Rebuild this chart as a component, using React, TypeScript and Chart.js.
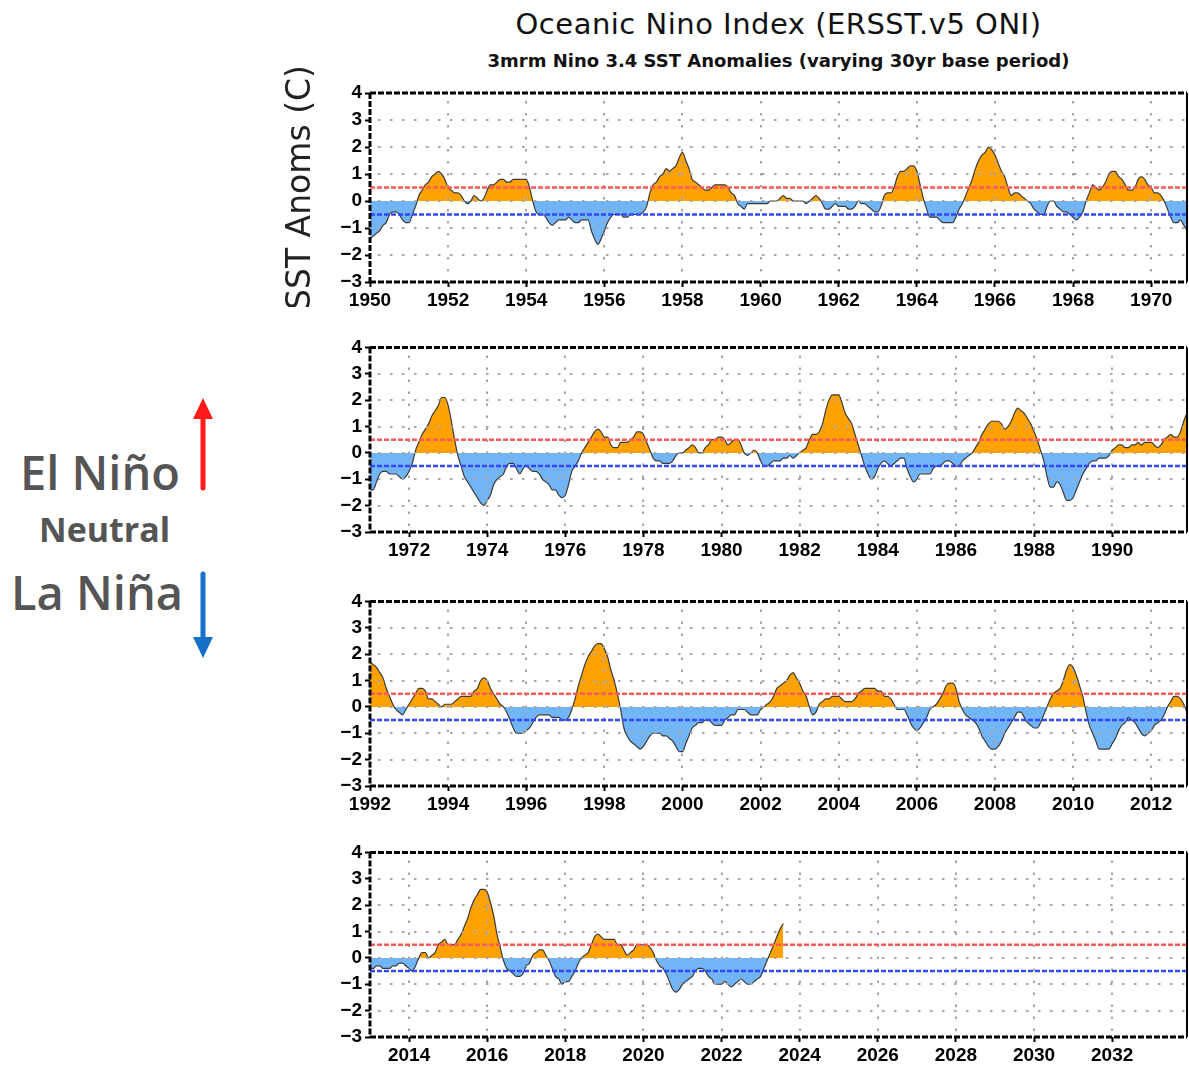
import React, { useEffect, useRef } from "react";
import { Chart, registerables } from "chart.js";
Chart.register(...registerables);

// Monthly 3-month running mean Nino 3.4 anomalies (value at centre month)
const oni1950s = [
  -1.4, -1.3, -1.2, -1.1, -0.9, -0.8, -0.5, -0.4, -0.4, -0.5, -0.7, -0.8,
  -0.8, -0.5, -0.2, 0.2, 0.4, 0.6, 0.7, 0.9, 1.0, 1.1, 1.0, 0.8,
  0.5, 0.4, 0.3, 0.3, 0.2, 0.0, -0.1, 0.0, 0.2, 0.1, 0.0, 0.1,
  0.4, 0.6, 0.6, 0.7, 0.8, 0.8, 0.7, 0.7, 0.8, 0.8, 0.8, 0.8,
  0.8, 0.5, 0.0, -0.4, -0.5, -0.5, -0.6, -0.8, -0.9, -0.8, -0.7, -0.7,
  -0.7, -0.6, -0.7, -0.8, -0.8, -0.7, -0.7, -0.7, -1.1, -1.4, -1.6, -1.4,
  -1.1, -0.8, -0.6, -0.5, -0.5, -0.5, -0.6, -0.6, -0.5, -0.5, -0.5, -0.5,
  -0.4, -0.2, 0.3, 0.6, 0.7, 0.9, 1.0, 1.2, 1.1, 1.2, 1.3, 1.6,
  1.8, 1.5, 1.2, 0.8, 0.7, 0.6, 0.5, 0.4, 0.4, 0.5, 0.6, 0.6,
  0.6, 0.6, 0.5, 0.3, 0.2, -0.1, -0.2, -0.3, -0.1, -0.1, -0.1, -0.1,
];
const oni1960s = [
  -0.1, -0.1, -0.1, 0.0, 0.0, 0.0, 0.1, 0.2, 0.1, 0.1, 0.0, 0.0,
  0.0, 0.0, -0.1, 0.0, 0.1, 0.2, 0.1, -0.1, -0.3, -0.3, -0.2, -0.1,
  -0.2, -0.2, -0.2, -0.3, -0.3, -0.2, 0.0, -0.1, -0.1, -0.2, -0.3, -0.4,
  -0.4, -0.2, 0.2, 0.3, 0.3, 0.5, 0.9, 1.1, 1.1, 1.2, 1.3, 1.3,
  1.1, 0.6, 0.1, -0.3, -0.6, -0.6, -0.6, -0.7, -0.8, -0.8, -0.8, -0.8,
  -0.6, -0.3, -0.1, 0.2, 0.5, 0.8, 1.2, 1.5, 1.7, 1.8, 2.0, 1.9,
  1.7, 1.4, 1.1, 0.9, 0.5, 0.2, 0.3, 0.3, 0.2, 0.1, 0.0, -0.1,
  -0.3, -0.4, -0.5, -0.5, -0.2, 0.0, 0.0, -0.2, -0.3, -0.4, -0.4, -0.5,
  -0.6, -0.7, -0.6, -0.4, 0.0, 0.3, 0.6, 0.5, 0.4, 0.5, 0.7, 1.0,
  1.1, 1.1, 0.9, 0.8, 0.6, 0.4, 0.4, 0.5, 0.8, 0.9, 0.8, 0.6,
];
const oni1970s = [
  0.5, 0.3, 0.3, 0.2, 0.0, -0.3, -0.6, -0.8, -0.8, -0.7, -0.9, -1.1,
  -1.4, -1.4, -1.1, -0.8, -0.7, -0.7, -0.8, -0.8, -0.8, -0.9, -1.0, -0.9,
  -0.7, -0.4, 0.1, 0.4, 0.7, 0.9, 1.1, 1.4, 1.6, 1.8, 2.1, 2.1,
  1.8, 1.2, 0.5, -0.1, -0.5, -0.9, -1.1, -1.3, -1.5, -1.7, -1.9, -2.0,
  -1.8, -1.6, -1.2, -1.0, -0.9, -0.8, -0.5, -0.4, -0.4, -0.6, -0.8, -0.6,
  -0.5, -0.6, -0.7, -0.7, -0.8, -1.0, -1.1, -1.2, -1.4, -1.4, -1.6, -1.7,
  -1.6, -1.2, -0.7, -0.5, -0.3, 0.0, 0.2, 0.4, 0.6, 0.8, 0.9, 0.8,
  0.6, 0.6, 0.3, 0.2, 0.2, 0.4, 0.4, 0.4, 0.5, 0.6, 0.8, 0.8,
  0.7, 0.4, 0.1, -0.2, -0.3, -0.3, -0.4, -0.4, -0.4, -0.3, -0.1, 0.0,
  0.0, 0.1, 0.2, 0.3, 0.2, 0.0, 0.0, 0.2, 0.3, 0.5, 0.5, 0.6,
];
const oni1980s = [
  0.6, 0.5, 0.3, 0.4, 0.5, 0.5, 0.3, 0.0, -0.1, 0.0, 0.1, 0.0,
  -0.3, -0.5, -0.5, -0.4, -0.3, -0.3, -0.3, -0.2, -0.2, -0.1, -0.2, -0.1,
  0.0, 0.1, 0.2, 0.5, 0.7, 0.7, 0.8, 1.1, 1.6, 2.0, 2.2, 2.2,
  2.2, 1.9, 1.5, 1.3, 1.1, 0.7, 0.3, -0.1, -0.5, -0.8, -1.0, -0.9,
  -0.6, -0.4, -0.3, -0.4, -0.5, -0.4, -0.3, -0.2, -0.2, -0.6, -0.9, -1.1,
  -1.0, -0.8, -0.8, -0.8, -0.8, -0.6, -0.5, -0.5, -0.4, -0.3, -0.3, -0.4,
  -0.5, -0.5, -0.3, -0.2, -0.1, 0.0, 0.2, 0.4, 0.7, 0.9, 1.1, 1.2,
  1.2, 1.2, 1.1, 0.9, 1.0, 1.2, 1.5, 1.7, 1.6, 1.5, 1.3, 1.1,
  0.8, 0.5, 0.1, -0.3, -0.9, -1.3, -1.3, -1.1, -1.2, -1.5, -1.8, -1.8,
  -1.7, -1.4, -1.1, -0.8, -0.6, -0.4, -0.3, -0.3, -0.2, -0.2, -0.2, -0.1,
];
const oni1990s = [
  0.1, 0.2, 0.3, 0.3, 0.2, 0.2, 0.3, 0.3, 0.4, 0.3, 0.4, 0.4,
  0.4, 0.3, 0.2, 0.3, 0.5, 0.6, 0.7, 0.6, 0.6, 0.8, 1.2, 1.5,
  1.7, 1.6, 1.5, 1.3, 1.1, 0.7, 0.4, 0.1, -0.1, -0.2, -0.3, -0.1,
  0.1, 0.3, 0.5, 0.7, 0.7, 0.6, 0.3, 0.3, 0.2, 0.1, 0.0, 0.1,
  0.1, 0.1, 0.2, 0.3, 0.4, 0.4, 0.4, 0.4, 0.6, 0.7, 1.0, 1.1,
  1.0, 0.7, 0.5, 0.3, 0.1, 0.0, -0.2, -0.5, -0.8, -1.0, -1.0, -1.0,
  -0.9, -0.8, -0.6, -0.4, -0.3, -0.3, -0.3, -0.3, -0.4, -0.4, -0.4, -0.5,
  -0.5, -0.4, -0.1, 0.3, 0.8, 1.2, 1.6, 1.9, 2.1, 2.3, 2.4, 2.4,
  2.2, 1.9, 1.4, 1.0, 0.5, -0.1, -0.8, -1.1, -1.3, -1.4, -1.5, -1.6,
  -1.5, -1.3, -1.1, -1.0, -1.0, -1.0, -1.1, -1.1, -1.2, -1.3, -1.5, -1.7,
];
const oni2000s = [
  -1.7, -1.4, -1.1, -0.8, -0.7, -0.6, -0.6, -0.5, -0.5, -0.6, -0.7, -0.7,
  -0.7, -0.5, -0.4, -0.3, -0.3, -0.1, -0.1, -0.1, -0.2, -0.3, -0.3, -0.3,
  -0.1, 0.0, 0.1, 0.2, 0.4, 0.7, 0.8, 0.9, 1.0, 1.2, 1.3, 1.1,
  0.9, 0.6, 0.4, 0.0, -0.3, -0.2, 0.1, 0.2, 0.3, 0.3, 0.4, 0.4,
  0.4, 0.3, 0.2, 0.2, 0.2, 0.3, 0.5, 0.6, 0.7, 0.7, 0.7, 0.7,
  0.6, 0.6, 0.4, 0.4, 0.3, 0.1, -0.1, -0.1, -0.1, -0.3, -0.6, -0.8,
  -0.9, -0.8, -0.6, -0.4, -0.1, 0.0, 0.1, 0.3, 0.5, 0.8, 0.9, 0.9,
  0.7, 0.2, -0.1, -0.3, -0.4, -0.5, -0.6, -0.8, -1.1, -1.3, -1.5, -1.6,
  -1.6, -1.5, -1.3, -1.0, -0.8, -0.6, -0.4, -0.2, -0.2, -0.4, -0.6, -0.7,
  -0.8, -0.8, -0.6, -0.3, 0.0, 0.3, 0.5, 0.6, 0.7, 1.0, 1.4, 1.6,
];
const oni2010s = [
  1.5, 1.2, 0.8, 0.4, -0.2, -0.7, -1.0, -1.3, -1.6, -1.6, -1.6, -1.6,
  -1.4, -1.2, -0.9, -0.7, -0.6, -0.4, -0.5, -0.6, -0.8, -1.0, -1.1, -1.0,
  -0.9, -0.7, -0.6, -0.5, -0.3, 0.0, 0.2, 0.4, 0.4, 0.3, 0.1, -0.2,
  -0.4, -0.4, -0.3, -0.3, -0.4, -0.4, -0.4, -0.3, -0.3, -0.2, -0.2, -0.3,
  -0.4, -0.5, -0.3, 0.0, 0.2, 0.2, 0.0, 0.1, 0.2, 0.5, 0.6, 0.7,
  0.5, 0.5, 0.5, 0.7, 0.9, 1.2, 1.5, 1.9, 2.2, 2.4, 2.6, 2.6,
  2.5, 2.1, 1.6, 0.9, 0.4, -0.1, -0.4, -0.5, -0.6, -0.7, -0.7, -0.6,
  -0.3, -0.2, 0.1, 0.2, 0.3, 0.3, 0.1, -0.1, -0.4, -0.7, -0.8, -1.0,
  -0.9, -0.9, -0.7, -0.5, -0.2, 0.0, 0.1, 0.2, 0.5, 0.8, 0.9, 0.8,
  0.7, 0.7, 0.7, 0.7, 0.5, 0.5, 0.3, 0.1, 0.2, 0.3, 0.5, 0.5,
];
const oni2020s = [
  0.5, 0.5, 0.4, 0.2, -0.1, -0.3, -0.4, -0.6, -0.9, -1.2, -1.3, -1.2,
  -1.0, -0.9, -0.8, -0.7, -0.5, -0.4, -0.4, -0.5, -0.7, -0.8, -1.0, -1.0,
  -1.0, -0.9, -1.0, -1.1, -1.0, -0.9, -0.8, -0.9, -1.0, -1.0, -0.9, -0.8,
  -0.7, -0.4, -0.1, 0.2, 0.5, 0.8, 1.1, 1.3,
];

const firstYear = 1950;
const panelStartYears = [1950, 1971, 1992, 2013];
const panelSpanYears = 21 - 1 / 12;
const panelYearTicks = [
  [1950, 1952, 1954, 1956, 1958, 1960, 1962, 1964, 1966, 1968, 1970],
  [1972, 1974, 1976, 1978, 1980, 1982, 1984, 1986, 1988, 1990],
  [1992, 1994, 1996, 1998, 2000, 2002, 2004, 2006, 2008, 2010, 2012],
  [2014, 2016, 2018, 2020, 2022, 2024, 2026, 2028, 2030, 2032],
];
const yTickValues = [-3, -2, -1, 0, 1, 2, 3, 4];
const gridYValues = [-2, -1, 0, 1, 2, 3];
const elNinoThreshold = 0.5;
const laNinaThreshold = -0.5;
const yAxisTitle = "SST Anoms (C)";
const chartTitle = "Oceanic Nino Index (ERSST.v5 ONI)";
const chartSubtitle = "3mrm Nino 3.4 SST Anomalies (varying 30yr base period)";

const oniMonthly = [
  ...oni1950s, ...oni1960s, ...oni1970s, ...oni1980s,
  ...oni1990s, ...oni2000s, ...oni2010s, ...oni2020s,
];
const oniPoints = oniMonthly.map((v, i) => ({ x: firstYear + i / 12, y: v }));

const panelTops = [93, 343, 597, 848];
const plotHeight = 189;
const canvasLeft = 280;
const canvasWidth = 909;
const yAxisWidth = 90;
const xAxisHeight = 25;
const tickFont = { family: "'Liberation Sans', Arial, sans-serif", size: 19, weight: "bold" as const };

const overlayPlugin = {
  id: "oniOverlay",
  afterDatasetsDraw(chart: any) {
    const { ctx, chartArea: a } = chart;
    const x = chart.scales.x;
    const y = chart.scales.y;
    ctx.save();
    ctx.beginPath();
    ctx.rect(a.left, a.top, a.right - a.left, a.bottom - a.top);
    ctx.clip();
    ctx.strokeStyle = "#a6a6a6";
    ctx.lineWidth = 2;
    ctx.setLineDash([2.5, 9.5]);
    for (const v of gridYValues) {
      const py = Math.round(y.getPixelForValue(v));
      ctx.beginPath();
      ctx.moveTo(a.left + 8, py);
      ctx.lineTo(a.right, py);
      ctx.stroke();
    }
    for (const t of x.ticks) {
      const px = Math.round(x.getPixelForValue(t.value));
      ctx.beginPath();
      ctx.moveTo(px, a.top + 8);
      ctx.lineTo(px, a.bottom);
      ctx.stroke();
    }
    ctx.lineWidth = 2.5;
    ctx.setLineDash([5, 2]);
    const thr = [
      [elNinoThreshold, "#ff5a5a"],
      [laNinaThreshold, "#3048ff"],
    ] as const;
    for (const [v, c] of thr) {
      const py = y.getPixelForValue(v);
      ctx.strokeStyle = c;
      ctx.beginPath();
      ctx.moveTo(a.left, py);
      ctx.lineTo(a.right, py);
      ctx.stroke();
    }
    ctx.restore();
  },
  afterDraw(chart: any) {
    const { ctx, chartArea: a } = chart;
    ctx.save();
    ctx.strokeStyle = "#000";
    ctx.lineWidth = 3;
    ctx.setLineDash([6, 2]);
    ctx.beginPath();
    ctx.moveTo(a.left, a.top);
    ctx.lineTo(a.right, a.top);
    ctx.moveTo(a.left, a.bottom);
    ctx.lineTo(a.right, a.bottom);
    ctx.moveTo(a.left, a.top);
    ctx.lineTo(a.left, a.bottom);
    ctx.stroke();
    ctx.setLineDash([]);
    ctx.lineWidth = 2;
    ctx.beginPath();
    ctx.moveTo(a.right, a.top);
    ctx.lineTo(a.right, a.bottom);
    ctx.stroke();
    ctx.restore();
  },
};

function OniPanel({ index }: { index: number }) {
  const ref = useRef<HTMLCanvasElement>(null);
  const padTop = index === 0 ? 40 : 10;
  const height = padTop + plotHeight + xAxisHeight;
  useEffect(() => {
    const start = panelStartYears[index];
    const end = start + panelSpanYears;
    const pts = oniPoints.filter((p) => p.x >= start - 0.2 && p.x <= end + 0.2);
    const yearTicks = panelYearTicks[index];
    const chart = new Chart(ref.current!, {
      type: "line",
      data: {
        datasets: [
          {
            data: pts,
            borderColor: "#3a3a3a",
            borderWidth: 1.2,
            pointRadius: 0,
            cubicInterpolationMode: "monotone",
            clip: 0,
            fill: { target: { value: 0 }, above: "#FFA200", below: "#72B5F6" },
          } as any,
        ],
      },
      options: {
        animation: false,
        responsive: false,
        maintainAspectRatio: false,
        devicePixelRatio: 1,
        layout: { padding: { top: padTop, right: 2, left: 0, bottom: 0 } },
        plugins: { legend: { display: false }, tooltip: { enabled: false } },
        scales: {
          x: {
            type: "linear",
            min: start,
            max: end,
            afterBuildTicks: (s: any) => {
              s.ticks = yearTicks.map((v) => ({ value: v }));
            },
            afterFit: (s: any) => {
              s.height = xAxisHeight;
            },
            grid: { drawOnChartArea: false, drawTicks: true, tickLength: 5, tickColor: "#000", tickWidth: 2 },
            border: { display: false },
            ticks: {
              autoSkip: false,
              maxRotation: 0,
              padding: 2,
              color: "#000",
              font: tickFont,
              callback: (v: any) => String(v),
            },
          },
          y: {
            type: "linear",
            min: -3,
            max: 4,
            afterBuildTicks: (s: any) => {
              s.ticks = yTickValues.map((v) => ({ value: v }));
            },
            afterFit: (s: any) => {
              s.width = yAxisWidth;
            },
            grid: { drawOnChartArea: false, drawTicks: true, tickLength: 5, tickColor: "#000", tickWidth: 2 },
            border: { display: false },
            title: {
              display: index === 0,
              text: yAxisTitle,
              color: "#222",
              font: { family: "'DejaVu Sans', sans-serif", size: 33 },
              padding: { top: 2, bottom: 0 },
            },
            ticks: {
              padding: 3,
              color: "#000",
              font: tickFont,
              callback: (v: any) => (v < 0 ? "\u2212" + Math.abs(v) : String(v)),
            },
          },
        },
      } as any,
      plugins: [overlayPlugin],
    });
    return () => chart.destroy();
  }, [index]);
  return (
    <canvas
      ref={ref}
      width={canvasWidth}
      height={height}
      style={{ position: "absolute", left: canvasLeft, top: panelTops[index] - padTop, width: canvasWidth, height }}
    />
  );
}

const sideFont = "'Open Sans', 'Noto Sans', sans-serif";

export default function App() {
  return (
    <div
      style={{
        position: "fixed",
        left: 0,
        top: 0,
        width: 1189,
        height: 1065,
        overflow: "hidden",
        background: "#fff",
      }}
    >
      <div
        style={{
          position: "absolute",
          left: 370,
          width: 817,
          top: 8,
          textAlign: "center",
          fontFamily: "'DejaVu Sans', sans-serif",
          fontSize: 29,
          lineHeight: "32px",
          color: "#111",
          letterSpacing: 0.5,
          whiteSpace: "nowrap",
        }}
      >
        {chartTitle}
      </div>
      <div
        style={{
          position: "absolute",
          left: 370,
          width: 817,
          top: 50,
          textAlign: "center",
          fontFamily: "'DejaVu Sans', sans-serif",
          fontWeight: "bold",
          fontSize: 18,
          lineHeight: "22px",
          color: "#111",
          whiteSpace: "nowrap",
        }}
      >
        {chartSubtitle}
      </div>
      <div style={{ position: "absolute", left: 20, top: 449, fontFamily: sideFont, fontWeight: 600, fontSize: 47, lineHeight: "47px", color: "#555", whiteSpace: "nowrap" }}>
        El Niño
      </div>
      <div style={{ position: "absolute", left: 39, top: 512, fontFamily: sideFont, fontWeight: 700, fontSize: 34, lineHeight: "34px", color: "#555", whiteSpace: "nowrap" }}>
        Neutral
      </div>
      <div style={{ position: "absolute", left: 11, top: 569, fontFamily: sideFont, fontWeight: 600, fontSize: 47, lineHeight: "47px", color: "#555", whiteSpace: "nowrap" }}>
        La Niña
      </div>
      <svg style={{ position: "absolute", left: 0, top: 0 }} width={260} height={700}>
        <line x1={203} y1={488} x2={203} y2={412} stroke="#ff1a1a" strokeWidth={5} strokeLinecap="round" />
        <polygon points="193,419 213,419 203,398" fill="#ff1a1a" />
        <line x1={203} y1={574} x2={203} y2={644} stroke="#1570c8" strokeWidth={5} strokeLinecap="round" />
        <polygon points="193,637 213,637 203,658" fill="#1570c8" />
      </svg>
      {panelStartYears.map((_, i) => (
        <OniPanel key={i} index={i} />
      ))}
    </div>
  );
}
